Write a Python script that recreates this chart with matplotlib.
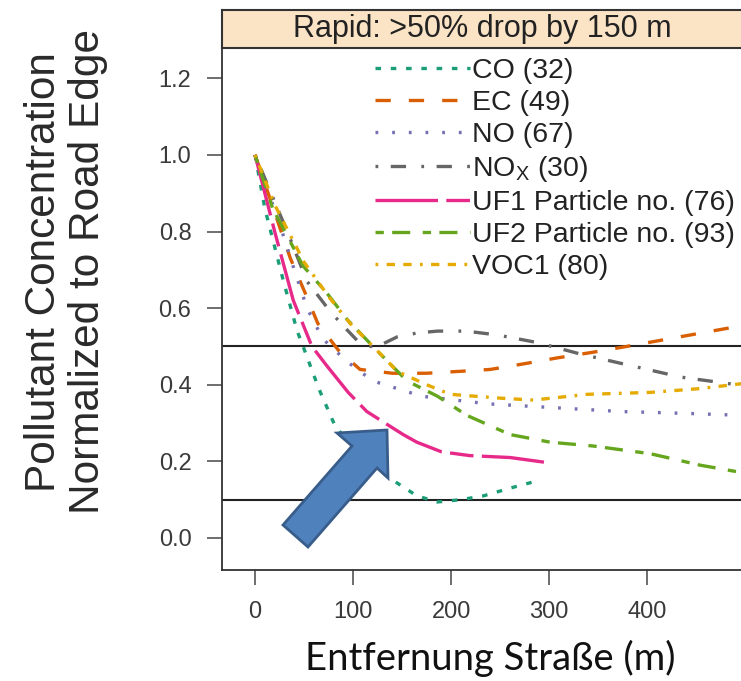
import matplotlib
matplotlib.use("Agg")
import matplotlib.pyplot as plt
from matplotlib.patches import Polygon

plt.rcParams['font.family'] = ['Liberation Sans', 'DejaVu Sans']
plt.rcParams['mathtext.fontset'] = 'custom'
plt.rcParams['mathtext.rm'] = 'Liberation Sans'
plt.rcParams['lines.scale_dashes'] = False

# ---------------- data ----------------
co_x = [0, 10, 29, 43, 49, 65, 82, 110, 141, 165, 186, 210, 233, 260, 289]
co_y = [1.0, 0.86, 0.67, 0.54, 0.50, 0.39, 0.29, 0.21, 0.15, 0.11, 0.094, 0.10, 0.11, 0.13, 0.15]

ec_x = [0, 36, 51, 64, 85, 107, 140, 175, 209, 240, 275, 308, 345, 379, 444, 520]
ec_y = [1.0, 0.73, 0.64, 0.56, 0.49, 0.44, 0.43, 0.43, 0.435, 0.44, 0.455, 0.47, 0.485, 0.50, 0.53, 0.565]

no_x = [0, 25, 40, 53, 69, 94, 120, 170, 238, 306, 374, 442, 520]
no_y = [1.0, 0.82, 0.70, 0.60, 0.52, 0.46, 0.41, 0.37, 0.35, 0.34, 0.33, 0.325, 0.318]

nox_x = [0, 36, 53, 77, 95, 110, 125, 145, 165, 186, 215, 247, 288, 332, 383, 434, 520]
nox_y = [1.0, 0.78, 0.67, 0.59, 0.54, 0.50, 0.50, 0.525, 0.535, 0.54, 0.54, 0.53, 0.51, 0.48, 0.45, 0.42, 0.39]

uf1_x = [0, 20, 39, 58, 73, 95, 114, 151, 165, 190, 219, 260, 303]
uf1_y = [1.0, 0.80, 0.62, 0.50, 0.45, 0.38, 0.33, 0.27, 0.25, 0.225, 0.215, 0.21, 0.195]

uf2_x = [0, 18, 49, 73, 94, 124, 155, 186, 216, 260, 301, 345, 403, 454, 520]
uf2_y = [1.0, 0.86, 0.71, 0.64, 0.57, 0.49, 0.41, 0.37, 0.32, 0.27, 0.25, 0.24, 0.22, 0.19, 0.16]

voc_x = [0, 20, 50, 75, 97, 128, 145, 175, 199, 250, 284, 339, 403, 454, 520]
voc_y = [1.0, 0.87, 0.72, 0.63, 0.56, 0.48, 0.435, 0.40, 0.375, 0.365, 0.36, 0.375, 0.38, 0.39, 0.41]

labels = ["CO (32)", "EC (49)", "NO (67)", r"NO$_\mathregular{X}$ (30)",
          "UF1 Particle no. (76)", "UF2 Particle no. (93)", "VOC1 (80)"]
colors = ["#1b9e77", "#d95f02", "#7570b3", "#666666", "#e7298a", "#66a61e", "#e6ab02"]
dashes = [(0, (4, 7)), (0, (11, 13)), (0, (2, 10)), (0, (2, 9, 11, 11)),
          (0, (45, 6, 17, 6)), (0, (6, 6, 13, 9)), (0, (2, 6, 6, 6, 6, 6))]

series_x = [co_x, ec_x, no_x, nox_x, uf1_x, uf2_x, voc_x]
series_y = [co_y, ec_y, no_y, nox_y, uf1_y, uf2_y, voc_y]

ref_lines = [0.5, 0.1]
xticks = [0, 100, 200, 300, 400]
yticks = [0.0, 0.2, 0.4, 0.6, 0.8, 1.0, 1.2]
title = "Rapid: >50% drop by 150 m"

# ---------------- figure ----------------
W, H = 741, 681
fig = plt.figure(figsize=(W / 100, H / 100), dpi=100)

def fx(px):
    return px / W

def fy(py):
    return 1 - py / H

ax_l, ax_r, ax_t, ax_b = 222, 765, 48, 570
ax = fig.add_axes([fx(ax_l), fy(ax_b), fx(ax_r - ax_l), (ax_b - ax_t) / H])
ax.set_xlim(-33.7, 520)
ax.set_ylim(-0.0836, 1.279)

for yv in ref_lines:
    ax.axhline(yv, color="#222222", lw=1.5, zorder=1)

handles = []
for x, y, c, d, lab in zip(series_x, series_y, colors, dashes, labels):
    h, = ax.plot(x, y, color=c, lw=2.4, linestyle=d, label=lab, zorder=3)
    handles.append(h)

ax.set_xticks(xticks)
ax.set_xticklabels([str(v) for v in xticks])
ax.set_yticks(yticks)
ax.set_yticklabels([f"{v:.1f}" for v in yticks])
ax.tick_params(axis='both', direction='out', length=11, width=1.2, color="#555555",
               labelsize=17, labelcolor="#3a3a3a", pad=11)
for s in ax.spines.values():
    s.set_color("#333333")
    s.set_linewidth(1.3)

leg = ax.legend(handles=handles, loc='upper left',
                bbox_to_anchor=(fx(375), fy(58)), bbox_transform=fig.transFigure,
                frameon=False, fontsize=20.5, handlelength=95 / 28.5, handletextpad=0.08,
                labelspacing=0.21, borderpad=0, borderaxespad=0)
for t in leg.get_texts():
    t.set_color("#222222")

# strip
sax = fig.add_axes([fx(ax_l), fy(ax_t), fx(ax_r - ax_l), (ax_t - 10) / H])
sax.set_facecolor("#fbe3c6")
sax.set_xticks([])
sax.set_yticks([])
for s in sax.spines.values():
    s.set_color("#333333")
    s.set_linewidth(1.5)
fig.text(fx(482), fy(29), title, ha='center', va='center', fontsize=22, color="#222222")

# y label
fig.text(fx(66), fy(272), "Pollutant Concentration\nNormalized to Road Edge",
         rotation=90, ha='center', va='center', fontsize=30.5, color="#2a2a2a",
         multialignment='center', linespacing=1.15)

# x label
fig.text(fx(490), fy(670), "Entfernung Straße (m)", ha='center', va='baseline',
         fontsize=27.5, color="#111111", family=['Lato', 'DejaVu Sans'])

# blue block arrow (annotation)
arrow_px = [(387, 430), (337, 433), (352, 446), (283, 525), (308, 547),
            (377, 468), (388, 478)]
arrow = Polygon([(fx(a), fy(b)) for a, b in arrow_px], closed=True,
                transform=fig.transFigure, facecolor="#4f81bd",
                edgecolor="#385d8a", lw=2, zorder=10)
fig.patches.append(arrow)

fig.savefig("out.png", dpi=100)
